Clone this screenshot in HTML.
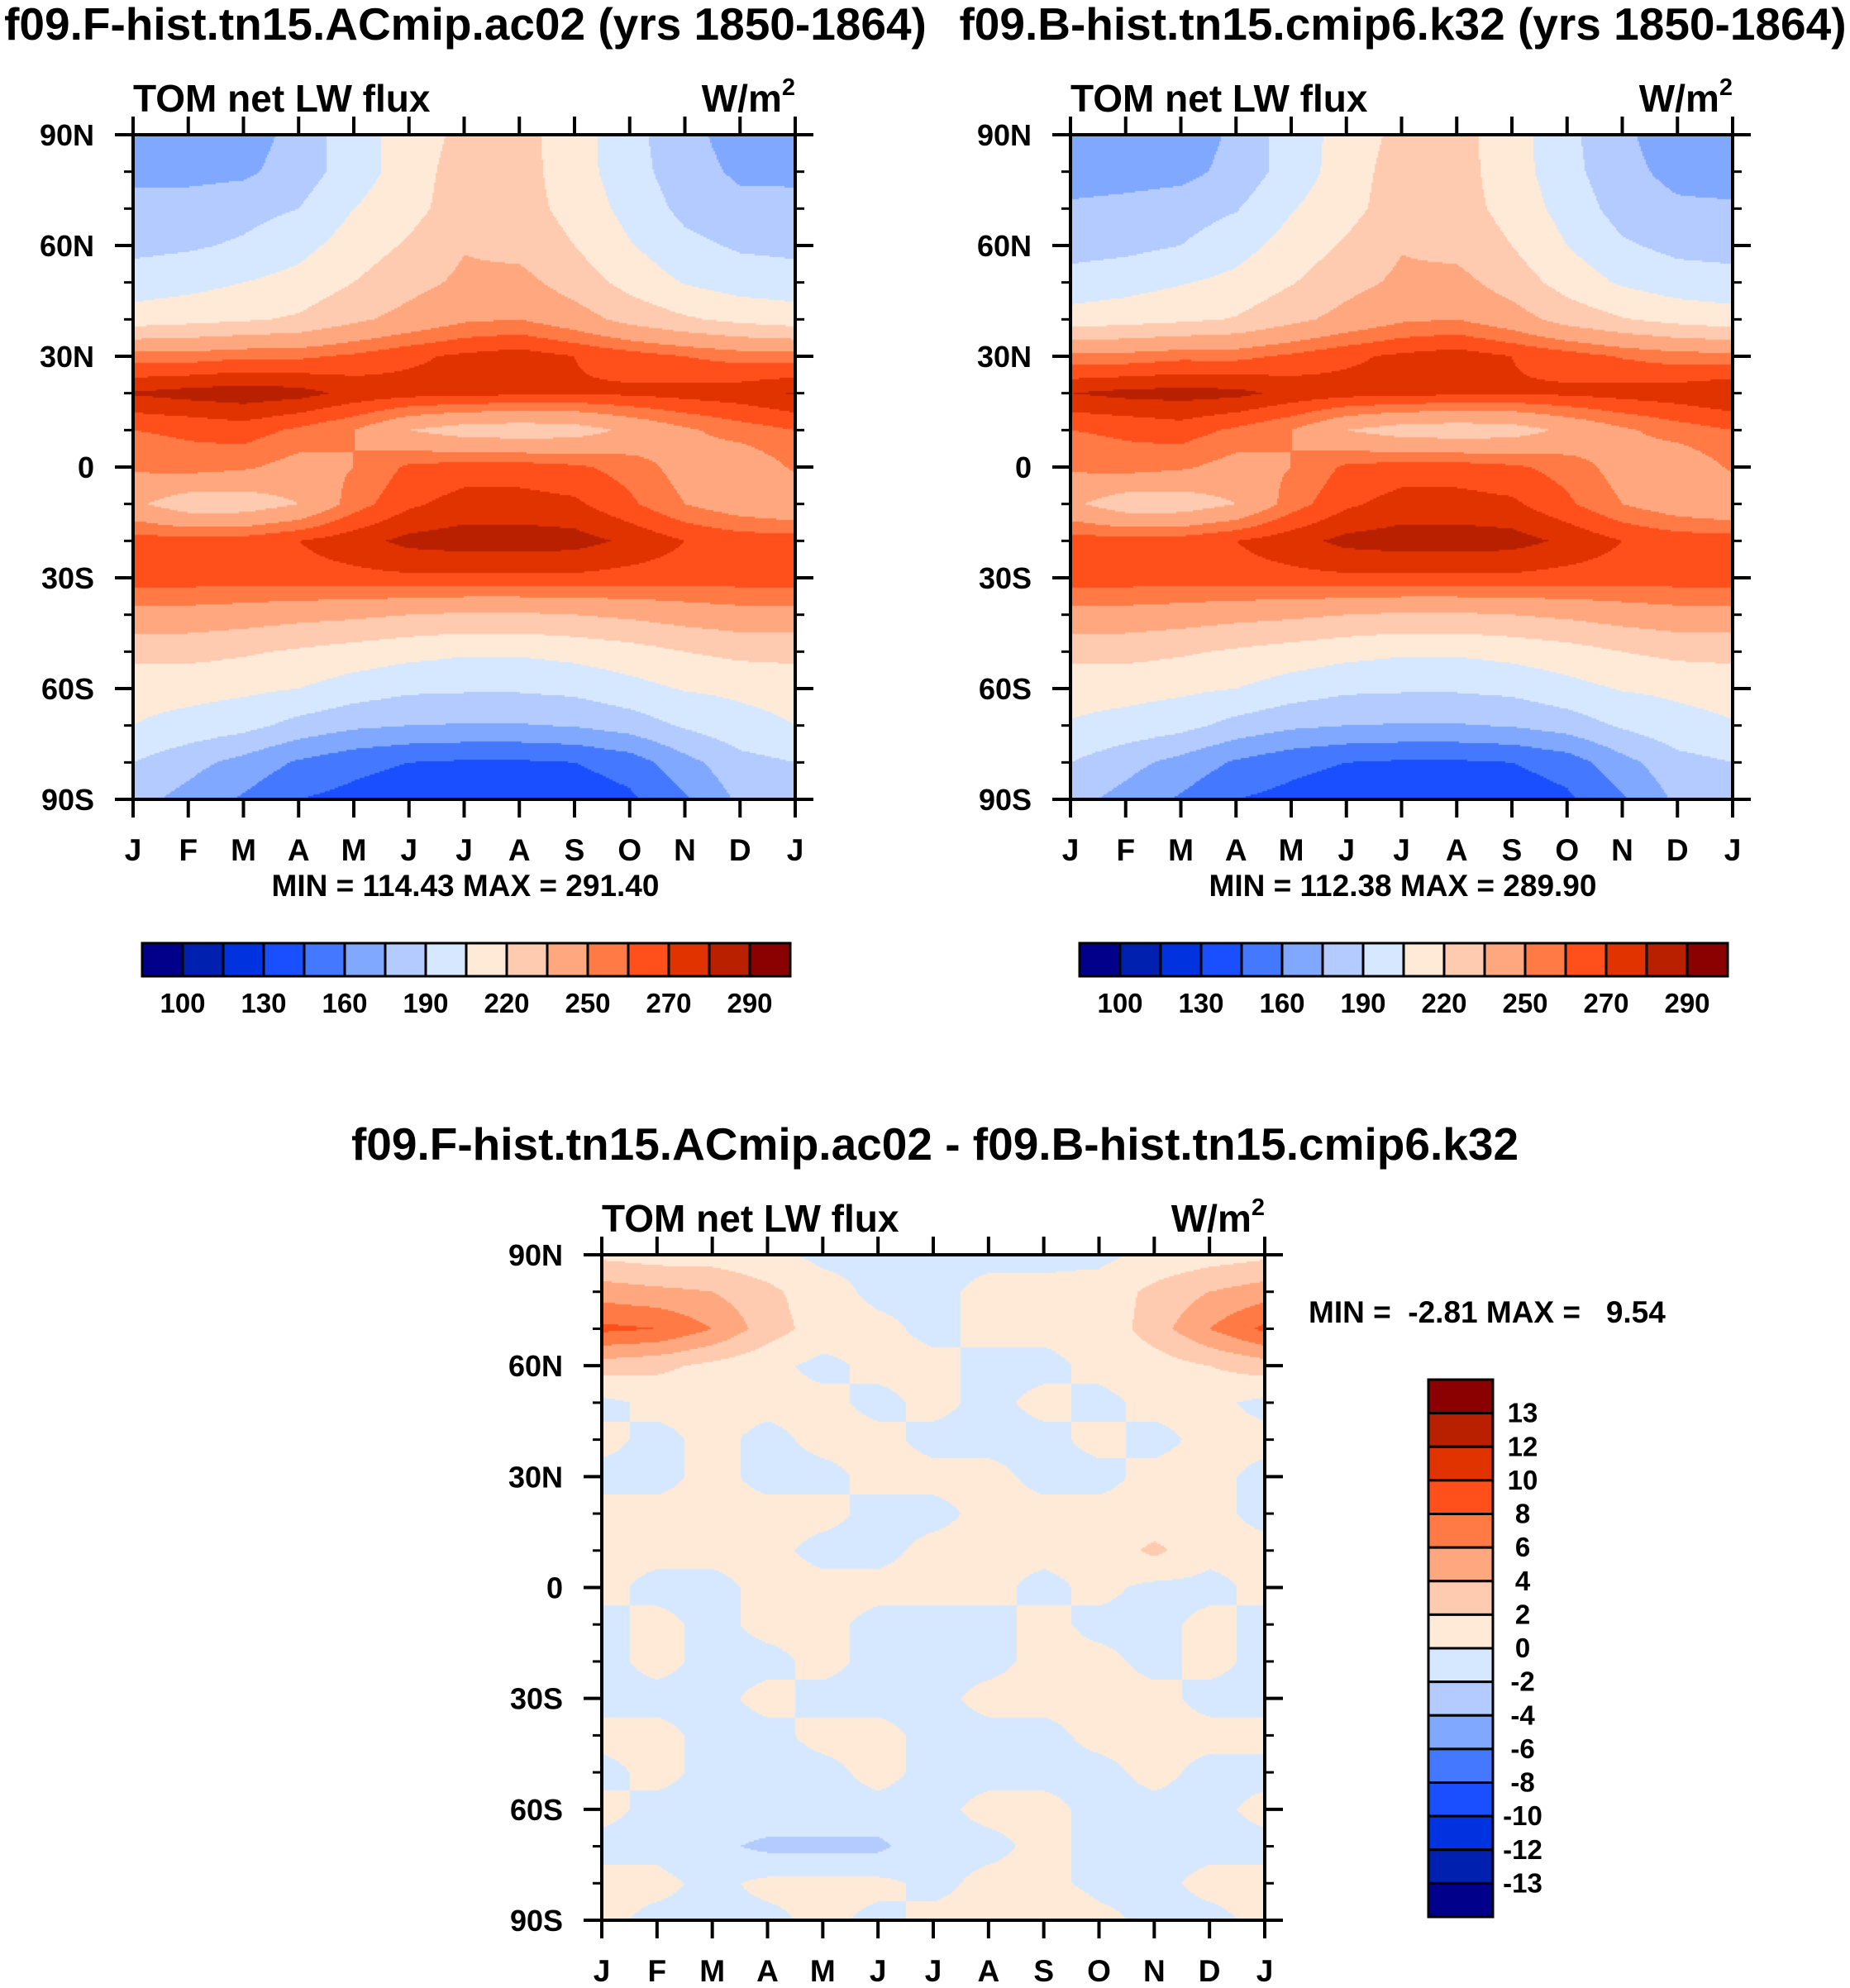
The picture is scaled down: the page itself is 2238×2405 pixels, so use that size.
<!DOCTYPE html>
<html><head><meta charset="utf-8">
<style>
html,body{margin:0;padding:0;background:#fff;}
#root{position:relative;width:2238px;height:2405px;overflow:hidden;font-family:"Liberation Sans",sans-serif;}
canvas{position:absolute;}
svg{position:absolute;left:0;top:0;}
</style></head>
<body>
<div id="root">
<canvas id="cA"></canvas>
<canvas id="cB"></canvas>
<canvas id="cC"></canvas>
<svg id="ov" width="2238" height="2405"></svg>
</div>
<script>
const months = ["J","F","M","A","M","J","J","A","S","O","N","D","J"];
const latLabels = ["90N","60N","30N","0","30S","60S","90S"];
const lats = [90,80,70,60,50,40,30,20,10,0,-10,-20,-30,-40,-50,-60,-70,-80,-90];
const levelsAbs = [100,115,130,145,160,175,190,205,220,235,250,260,270,280,290];
const levelsAbsLabels = ["100","130","160","190","220","250","270","290"];
const levelsDiff = [-13,-12,-10,-8,-6,-4,-2,0,2,4,6,8,10,12,13];
const levelsDiffLabels = ["-13","-12","-10","-8","-6","-4","-2","0","2","4","6","8","10","12","13"];
const colors = ["#00008a","#0020b0","#0033e0","#1a4fff","#4479ff","#80a8ff","#b3cbff","#d6e8ff","#ffead8","#ffcbb0","#ffa880","#ff7a45","#ff501c","#e03300","#b82000","#8b0000"];

const fieldA = [
[168,168,168,180,200,210,225,225,212,195,180,168,168],
[170,170,172,182,198,212,228,226,212,196,182,172,170],
[182,182,185,190,205,215,228,226,215,200,186,180,182],
[186,188,192,200,212,222,234,230,220,206,194,188,186],
[197,200,205,210,220,230,238,240,228,215,204,198,197],
[212,215,218,222,232,240,248,250,242,230,222,216,212],
[255,255,258,258,262,268,272,275,270,265,260,256,255],
[281,284,286,284,277,274,273,272,271,272,274,276,281],
[260,262,265,258,250,235,228,226,228,238,248,255,260],
[252,255,252,245,250,262,265,265,262,256,245,240,252],
[238,226,226,235,255,268,274,274,272,262,250,242,238],
[265,264,265,270,276,283,285,285,284,278,270,266,265],
[265,265,265,266,267,268,268,268,268,266,265,265,265],
[245,245,243,240,238,235,233,233,235,238,242,245,245],
[225,225,222,218,214,210,207,207,210,214,220,224,225],
[210,210,208,205,198,193,192,192,194,200,206,208,210],
[205,200,195,185,178,175,174,174,176,182,192,200,205],
[190,180,170,158,150,145,143,143,145,152,170,185,190],
[180,170,158,145,140,135,132,132,135,142,158,178,180]];
const fieldB = [
[162,165,166,178,198,210,225,225,212,194,178,166,162],
[166,168,170,180,197,212,228,226,212,195,180,170,166],
[178,180,183,189,204,215,228,226,215,199,184,178,178],
[184,186,190,199,211,222,234,230,220,205,192,186,184],
[196,199,204,209,219,230,238,240,228,214,203,197,196],
[211,214,217,221,231,240,248,250,242,229,221,215,211],
[254,254,257,257,262,268,272,275,270,265,259,255,254],
[280,283,284,283,277,274,273,272,271,272,274,276,280],
[260,262,265,258,250,235,228,226,228,238,248,255,260],
[252,255,252,245,250,262,265,265,262,256,245,240,252],
[238,226,226,235,255,268,274,274,272,262,250,242,238],
[265,264,265,270,276,283,285,285,284,278,270,266,265],
[265,265,265,266,267,268,268,268,268,266,265,265,265],
[245,245,243,240,238,235,233,233,235,238,242,245,245],
[225,225,222,218,214,210,207,207,210,214,220,224,225],
[210,210,208,205,198,193,192,192,194,200,206,208,210],
[204,200,195,185,178,175,174,174,176,182,192,200,204],
[190,180,170,158,150,145,143,143,145,152,170,185,190],
[180,170,158,145,140,135,132,132,135,142,158,178,180]];
const fieldC = [
[1.5,1,1,0.5,-0.5,-0.5,-0.5,-0.5,-0.5,-0.5,0.5,1,1.5],
[5,4.5,4,2.5,0.8,-0.5,-0.5,0.5,0.5,0.8,2.5,4,5],
[8.5,8,6,3,1,0.5,-0.5,0.5,0.5,0.5,3,6,8.5],
[3,2.5,1.5,0.5,-0.5,0.5,0.5,-0.5,-0.5,0.5,1,2,3],
[-0.5,0.5,0.5,0.5,0.5,-0.5,0.5,-0.5,0.5,-0.5,0.5,0.5,-0.5],
[0.5,-0.5,0.5,-0.5,0.5,0.5,-0.5,-0.5,-0.5,0.5,-0.5,0.5,0.5],
[-0.5,-0.5,0.5,-0.5,-0.5,0.5,0.5,0.5,-0.5,-0.5,0.5,0.5,-0.5],
[0.5,0.5,0.5,0.5,0.5,-0.5,-0.5,0.5,0.5,0.5,0.5,0.5,-0.5],
[0.5,0.5,0.5,0.5,-0.5,-0.5,0.5,0.5,0.5,0.5,2.5,0.5,0.5],
[0.5,-0.5,-0.5,0.5,0.5,0.5,0.5,0.5,-0.5,0.5,-0.5,-0.5,0.5],
[-0.5,0.5,-0.5,0.5,0.5,-0.5,-0.5,-0.5,0.5,-0.5,-0.5,0.5,-0.5],
[-0.5,0.5,-0.5,-0.5,0.5,-0.5,-0.5,-0.5,0.5,0.5,-0.5,0.5,-0.5],
[-0.5,-0.5,-0.5,0.5,-0.5,-0.5,-0.5,0.5,0.5,0.5,0.5,-0.5,-0.5],
[0.5,0.5,-0.5,-0.5,0.5,0.5,-0.5,-0.5,-0.5,0.5,0.5,0.5,0.5],
[-0.5,0.5,-0.5,-0.5,-0.5,0.5,-0.5,-0.5,-0.5,-0.5,0.5,-0.5,-0.5],
[0.5,-0.5,-0.5,-0.5,-0.5,-0.5,-0.5,0.5,0.5,-0.5,-0.5,-0.5,0.5],
[-0.5,-0.5,-1.5,-2.5,-2.5,-2.5,-0.5,-0.5,0.5,-0.5,-0.5,-0.5,-0.5],
[0.5,0.5,-0.5,0.5,0.5,0.5,-0.5,0.5,0.5,-0.5,-0.5,0.5,0.5],
[0.5,-0.5,-0.5,-0.5,0.5,-0.5,0.5,0.5,1.5,0.5,-0.5,-0.5,0.5]];

const NS="http://www.w3.org/2000/svg";
const ov=document.getElementById('ov');
function mk(tag,attrs,parent){const e=document.createElementNS(NS,tag);for(const k in attrs)e.setAttribute(k,attrs[k]);(parent||ov).appendChild(e);return e;}
function txt(x,y,s,size,anchor){const t=mk('text',{x:x,y:y,'font-size':size,'font-weight':'bold','text-anchor':anchor||'start','font-family':'Liberation Sans, sans-serif',fill:'#000'});t.style.whiteSpace='pre';t.textContent=s;return t;}

function interp(field,r,c){
  const r0=Math.min(Math.floor(r),field.length-2),c0=Math.min(Math.floor(c),field[0].length-2);
  const fr=r-r0,fc=c-c0;
  const a=field[r0][c0],b=field[r0][c0+1],d=field[r0+1][c0],e=field[r0+1][c0+1];
  return (a*(1-fc)+b*fc)*(1-fr)+(d*(1-fc)+e*fc)*fr;
}
function band(v,levels){let i=0;while(i<levels.length&&v>=levels[i])i++;return i;}

function drawPlot(cid,field,levels,L,T,W,H){
  const cv=document.getElementById(cid);
  cv.width=W;cv.height=H;cv.style.left=L+'px';cv.style.top=T+'px';
  const ctx=cv.getContext('2d');const st=2;
  const nr=field.length-1,nc=field[0].length-1;
  for(let y=0;y<H;y+=st){for(let x=0;x<W;x+=st){
    const v=interp(field,(y+st/2)/H*nr,(x+st/2)/W*nc);
    ctx.fillStyle=colors[band(v,levels)];ctx.fillRect(x,y,st,st);}}
}
function axes(name,L,T,W,H,minmax,mmx,mmy,anchor){
  const g=mk('g',{});
  
  
  const R=L+W,B=T+H;
  mk('rect',{x:L,y:T,width:W,height:H,fill:'none',stroke:'#000','stroke-width':4},g);
  for(let m=0;m<months.length;m++){
    const x=L+m*W/12;
    mk('line',{x1:x,y1:B,x2:x,y2:B+22,stroke:'#000','stroke-width':4},g);
    mk('line',{x1:x,y1:T,x2:x,y2:T-22,stroke:'#000','stroke-width':4},g);
    const t=txt(x,B+74,months[m],37,'middle');
    
    
  }
  for(let k=0;k<=18;k++){
    const y=T+k*H/18;const maj=k%3===0;const len=maj?22:11;
    mk('line',{x1:L-len,y1:y,x2:L,y2:y,stroke:'#000','stroke-width':maj?4:3},g);
    mk('line',{x1:R,y1:y,x2:R+len,y2:y,stroke:'#000','stroke-width':maj?4:3},g);
    if(maj){const t=txt(L-47,y+13,latLabels[k/3],36,'end');
      
      }
  }
  const a=txt(L,T-28,'TOM net LW flux',46,'start');
  
  
  const u=txt(R,T-28,'W/m',46,'end');
  
  
  const sup=mk('tspan',{'font-size':29,dy:-20},u);sup.textContent='2';
  const mm=txt(mmx,mmy,minmax,37,anchor);
  
  
}
function hbar(name,x0,y0,bw,bh,labels){
  const g=mk('g',{});
  
  
  for(let i=0;i<16;i++)mk('rect',{x:x0+i*bw,y:y0,width:bw,height:bh,fill:colors[i],stroke:'#000','stroke-width':3},g);
  labels.forEach((s,j)=>{const t=txt(x0+(2*j+1)*bw,y0+bh+44,s,33,'middle');
    
    });
}

const PW=801,PH=804;
drawPlot('cA',fieldA,levelsAbs,161,163,PW,PH);
drawPlot('cB',fieldB,levelsAbs,1295,163,PW,PH);
drawPlot('cC',fieldC,levelsDiff,728,1518,802,805);

let t1=txt(563,48,'f09.F-hist.tn15.ACmip.ac02 (yrs 1850-1864)',55,'middle');


let t2=txt(1697,48,'f09.B-hist.tn15.cmip6.k32 (yrs 1850-1864)',55,'middle');


let t3=txt(1131,1403,'f09.F-hist.tn15.ACmip.ac02 - f09.B-hist.tn15.cmip6.k32',55,'middle');



axes('left-plot',161,163,PW,PH,'MIN = 114.43 MAX = 291.40',563,1084,'middle');
axes('right-plot',1295,163,PW,PH,'MIN = 112.38 MAX = 289.90',1697,1084,'middle');
axes('difference-plot',728,1518,802,805,'MIN =  -2.81 MAX =   9.54',1583,1600,'start');

hbar('left-colorbar',172,1141,49,40,levelsAbsLabels);
hbar('right-colorbar',1306,1141,49,40,levelsAbsLabels);

const vg=mk('g',{});


const vh=650/16;
for(let i=0;i<16;i++)mk('rect',{x:1728,y:1669+i*vh,width:78,height:vh,fill:colors[15-i],stroke:'#000','stroke-width':3},vg);
for(let j=0;j<15;j++){
  const t=txt(1842,1669+(j+1)*vh+11,levelsDiffLabels[14-j],33,'middle');
  
  
}
</script>
</body></html>
